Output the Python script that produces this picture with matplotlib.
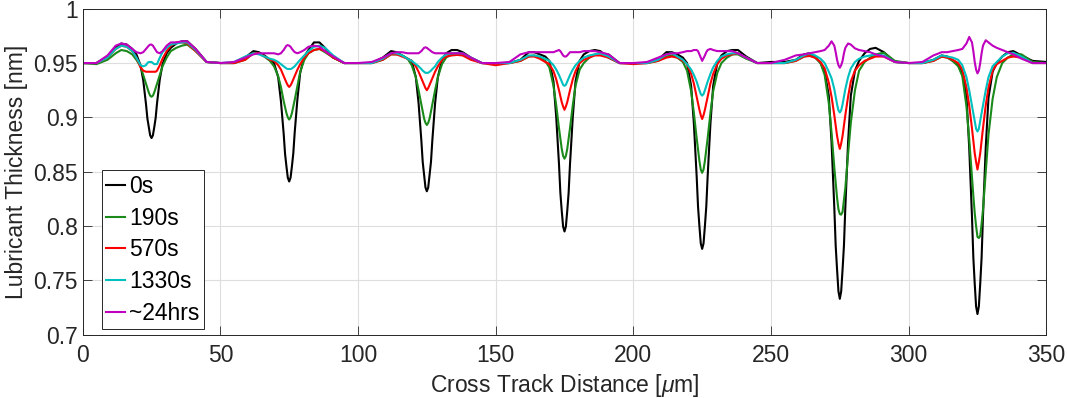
import numpy as np
import matplotlib
matplotlib.use("Agg")
import matplotlib.pyplot as plt
from matplotlib.ticker import FormatStrFormatter

plt.rcParams['font.family'] = ['Liberation Sans', 'DejaVu Sans']
plt.rcParams['mathtext.fontset'] = 'custom'
plt.rcParams['mathtext.it'] = 'Liberation Sans:italic'
plt.rcParams['mathtext.rm'] = 'Liberation Sans'

# dip centres and sample offsets (um) around each dip
centers = [25, 75, 125, 175, 225, 275, 325]
offsets = [-25, -20, -16, -13, -11, -9, -7, -5.5, -4, -3, -2, -1.5, -1, -0.5, 0,
           0.5, 1, 1.5, 2, 3, 4, 5.5, 7, 9, 11, 13, 16, 20]
x_end = 350

labels = ['0s', '190s', '570s', '1330s', '~24hrs']
colors = ['#000000', '#1a8a1a', '#ff0000', '#00bfbf', '#bf00bf']

# lubricant thickness [nm], one row per dip
thick_0s = [
    [0.950, 0.950, 0.956, 0.964, 0.968, 0.967, 0.963, 0.958, 0.948, 0.934, 0.912, 0.899, 0.891, 0.8835, 0.881, 0.8835, 0.891, 0.8995, 0.913, 0.935, 0.949, 0.959, 0.964, 0.968, 0.970, 0.970, 0.963, 0.951],
    [0.950, 0.950, 0.955, 0.961, 0.960, 0.957, 0.953, 0.950, 0.937, 0.915, 0.885, 0.8665, 0.855, 0.8445, 0.841, 0.8445, 0.855, 0.867, 0.886, 0.917, 0.941, 0.956, 0.962, 0.969, 0.969, 0.964, 0.955, 0.950],
    [0.950, 0.950, 0.955, 0.961, 0.960, 0.957, 0.954, 0.952, 0.937, 0.913, 0.879, 0.859, 0.847, 0.8355, 0.832, 0.8355, 0.847, 0.859, 0.879, 0.913, 0.937, 0.953, 0.959, 0.962, 0.962, 0.960, 0.955, 0.950],
    [0.950, 0.950, 0.953, 0.960, 0.960, 0.958, 0.956, 0.952, 0.933, 0.900, 0.857, 0.8305, 0.814, 0.7995, 0.795, 0.7995, 0.814, 0.8305, 0.857, 0.900, 0.933, 0.952, 0.958, 0.961, 0.962, 0.961, 0.955, 0.950],
    [0.950, 0.950, 0.953, 0.960, 0.960, 0.958, 0.955, 0.950, 0.929, 0.894, 0.846, 0.818, 0.800, 0.784, 0.779, 0.784, 0.800, 0.818, 0.846, 0.894, 0.929, 0.950, 0.957, 0.961, 0.962, 0.962, 0.956, 0.950],
    [0.951, 0.951, 0.953, 0.958, 0.959, 0.956, 0.950, 0.942, 0.920, 0.877, 0.817, 0.782, 0.760, 0.740, 0.733, 0.740, 0.760, 0.782, 0.817, 0.877, 0.920, 0.943, 0.952, 0.959, 0.963, 0.964, 0.960, 0.951],
    [0.950, 0.950, 0.953, 0.957, 0.956, 0.952, 0.948, 0.940, 0.920, 0.872, 0.809, 0.771, 0.747, 0.726, 0.719, 0.726, 0.747, 0.771, 0.809, 0.872, 0.918, 0.942, 0.950, 0.956, 0.960, 0.961, 0.957, 0.952],
]
thick_190s = [
    [0.950, 0.949, 0.953, 0.959, 0.962, 0.961, 0.958, 0.953, 0.947, 0.939, 0.931, 0.927, 0.923, 0.920, 0.919, 0.920, 0.923, 0.927, 0.931, 0.939, 0.947, 0.955, 0.961, 0.964, 0.966, 0.967, 0.961, 0.951],
    [0.950, 0.950, 0.953, 0.959, 0.959, 0.956, 0.952, 0.947, 0.938, 0.928, 0.915, 0.9095, 0.904, 0.900, 0.898, 0.900, 0.904, 0.910, 0.916, 0.929, 0.942, 0.953, 0.959, 0.962, 0.963, 0.960, 0.955, 0.950],
    [0.950, 0.950, 0.953, 0.958, 0.958, 0.957, 0.954, 0.948, 0.937, 0.925, 0.912, 0.9055, 0.899, 0.895, 0.893, 0.895, 0.899, 0.9055, 0.912, 0.925, 0.937, 0.949, 0.955, 0.958, 0.959, 0.958, 0.954, 0.950],
    [0.950, 0.950, 0.952, 0.956, 0.957, 0.955, 0.952, 0.946, 0.929, 0.911, 0.890, 0.8805, 0.871, 0.8645, 0.862, 0.8645, 0.871, 0.8805, 0.890, 0.911, 0.929, 0.944, 0.950, 0.955, 0.958, 0.959, 0.958, 0.950],
    [0.950, 0.950, 0.952, 0.956, 0.957, 0.955, 0.951, 0.943, 0.924, 0.904, 0.881, 0.8705, 0.860, 0.852, 0.849, 0.852, 0.860, 0.8705, 0.881, 0.904, 0.924, 0.941, 0.950, 0.955, 0.958, 0.958, 0.954, 0.950],
    [0.950, 0.950, 0.952, 0.956, 0.957, 0.955, 0.950, 0.939, 0.913, 0.886, 0.854, 0.840, 0.826, 0.8155, 0.811, 0.8105, 0.813, 0.824, 0.835, 0.866, 0.895, 0.925, 0.943, 0.951, 0.955, 0.958, 0.9595, 0.952],
    [0.950, 0.950, 0.952, 0.956, 0.955, 0.952, 0.947, 0.938, 0.910, 0.880, 0.845, 0.828, 0.812, 0.800, 0.790, 0.789, 0.791, 0.802, 0.815, 0.850, 0.884, 0.917, 0.937, 0.950, 0.955, 0.958, 0.958, 0.951],
]
thick_570s = [
    [0.950, 0.950, 0.955, 0.963, 0.966, 0.965, 0.961, 0.955, 0.946, 0.943, 0.942, 0.942, 0.942, 0.942, 0.942, 0.942, 0.942, 0.942, 0.943, 0.948, 0.954, 0.961, 0.966, 0.969, 0.969, 0.968, 0.961, 0.951],
    [0.950, 0.950, 0.953, 0.959, 0.959, 0.956, 0.953, 0.952, 0.948, 0.944, 0.938, 0.935, 0.932, 0.9295, 0.928, 0.9295, 0.932, 0.935, 0.938, 0.944, 0.949, 0.955, 0.959, 0.962, 0.963, 0.961, 0.955, 0.950],
    [0.950, 0.950, 0.953, 0.958, 0.958, 0.956, 0.954, 0.952, 0.947, 0.942, 0.936, 0.933, 0.930, 0.927, 0.925, 0.927, 0.930, 0.933, 0.936, 0.942, 0.947, 0.953, 0.956, 0.957, 0.9575, 0.957, 0.953, 0.950],
    [0.948, 0.950, 0.952, 0.956, 0.956, 0.954, 0.951, 0.949, 0.9425, 0.935, 0.925, 0.9195, 0.914, 0.910, 0.907, 0.910, 0.914, 0.9195, 0.925, 0.935, 0.9425, 0.950, 0.953, 0.955, 0.957, 0.957, 0.955, 0.950],
    [0.949, 0.950, 0.952, 0.955, 0.956, 0.955, 0.952, 0.949, 0.940, 0.931, 0.919, 0.913, 0.907, 0.902, 0.8985, 0.902, 0.907, 0.913, 0.919, 0.931, 0.940, 0.949, 0.954, 0.957, 0.958, 0.959, 0.955, 0.950],
    [0.950, 0.950, 0.952, 0.956, 0.9565, 0.955, 0.951, 0.945, 0.932, 0.919, 0.902, 0.8925, 0.883, 0.876, 0.871, 0.876, 0.883, 0.8925, 0.902, 0.919, 0.933, 0.943, 0.948, 0.952, 0.954, 0.956, 0.956, 0.951],
    [0.950, 0.950, 0.952, 0.956, 0.955, 0.953, 0.950, 0.944, 0.9275, 0.911, 0.890, 0.8785, 0.867, 0.859, 0.852, 0.859, 0.867, 0.8785, 0.890, 0.911, 0.9275, 0.943, 0.949, 0.952, 0.955, 0.956, 0.955, 0.950],
]
thick_1330s = [
    [0.950, 0.950, 0.955, 0.963, 0.966, 0.965, 0.961, 0.955, 0.948, 0.947, 0.948, 0.950, 0.951, 0.951, 0.951, 0.950, 0.949, 0.949, 0.949, 0.955, 0.960, 0.964, 0.967, 0.968, 0.969, 0.969, 0.962, 0.951],
    [0.950, 0.951, 0.956, 0.959, 0.958, 0.956, 0.954, 0.953, 0.951, 0.949, 0.947, 0.946, 0.945, 0.9445, 0.9445, 0.9445, 0.945, 0.946, 0.947, 0.950, 0.953, 0.957, 0.961, 0.965, 0.966, 0.964, 0.957, 0.950],
    [0.950, 0.950, 0.954, 0.959, 0.959, 0.957, 0.954, 0.952, 0.949, 0.947, 0.9445, 0.943, 0.942, 0.941, 0.941, 0.941, 0.942, 0.943, 0.9445, 0.947, 0.951, 0.955, 0.958, 0.959, 0.959, 0.959, 0.955, 0.950],
    [0.950, 0.950, 0.953, 0.957, 0.957, 0.956, 0.954, 0.952, 0.948, 0.944, 0.939, 0.936, 0.933, 0.930, 0.929, 0.930, 0.933, 0.936, 0.939, 0.944, 0.948, 0.952, 0.955, 0.957, 0.958, 0.959, 0.956, 0.950],
    [0.950, 0.950, 0.953, 0.958, 0.959, 0.956, 0.953, 0.949, 0.944, 0.939, 0.933, 0.929, 0.925, 0.9215, 0.920, 0.9215, 0.925, 0.929, 0.933, 0.940, 0.946, 0.952, 0.956, 0.958, 0.959, 0.959, 0.955, 0.950],
    [0.950, 0.950, 0.953, 0.957, 0.959, 0.957, 0.954, 0.950, 0.942, 0.936, 0.926, 0.919, 0.912, 0.9065, 0.9045, 0.9065, 0.912, 0.919, 0.926, 0.937, 0.945, 0.951, 0.954, 0.956, 0.957, 0.958, 0.957, 0.951],
    [0.950, 0.950, 0.953, 0.957, 0.956, 0.955, 0.953, 0.948, 0.937, 0.925, 0.911, 0.904, 0.897, 0.8895, 0.887, 0.8895, 0.897, 0.904, 0.911, 0.925, 0.937, 0.947, 0.951, 0.956, 0.959, 0.9595, 0.956, 0.950],
]
thick_24hrs = [
    [0.950, 0.950, 0.957, 0.966, 0.968, 0.967, 0.963, 0.960, 0.959, 0.960, 0.963, 0.9645, 0.966, 0.967, 0.967, 0.966, 0.964, 0.962, 0.960, 0.959, 0.961, 0.966, 0.969, 0.969, 0.970, 0.970, 0.963, 0.951],
    [0.950, 0.951, 0.955, 0.958, 0.959, 0.959, 0.959, 0.959, 0.958, 0.959, 0.962, 0.964, 0.966, 0.9665, 0.966, 0.965, 0.963, 0.9615, 0.960, 0.959, 0.960, 0.962, 0.965, 0.966, 0.965, 0.961, 0.956, 0.950],
    [0.950, 0.951, 0.955, 0.959, 0.960, 0.960, 0.959, 0.959, 0.959, 0.959, 0.961, 0.9625, 0.964, 0.9645, 0.964, 0.963, 0.962, 0.961, 0.960, 0.959, 0.959, 0.959, 0.959, 0.959, 0.959, 0.959, 0.955, 0.950],
    [0.950, 0.951, 0.958, 0.960, 0.960, 0.960, 0.960, 0.960, 0.960, 0.961, 0.962, 0.961, 0.959, 0.957, 0.956, 0.956, 0.957, 0.9585, 0.960, 0.960, 0.960, 0.960, 0.961, 0.961, 0.961, 0.960, 0.958, 0.950],
    [0.950, 0.951, 0.955, 0.958, 0.959, 0.959, 0.960, 0.961, 0.961, 0.962, 0.962, 0.961, 0.958, 0.955, 0.952, 0.9545, 0.957, 0.960, 0.962, 0.963, 0.962, 0.961, 0.961, 0.961, 0.961, 0.959, 0.955, 0.950],
    [0.950, 0.953, 0.957, 0.958, 0.959, 0.960, 0.961, 0.962, 0.966, 0.970, 0.966, 0.960, 0.953, 0.948, 0.9457, 0.948, 0.952, 0.959, 0.964, 0.968, 0.967, 0.9635, 0.962, 0.961, 0.960, 0.958, 0.956, 0.951],
    [0.950, 0.951, 0.957, 0.960, 0.960, 0.961, 0.962, 0.963, 0.968, 0.974, 0.969, 0.961, 0.951, 0.944, 0.9405, 0.943, 0.950, 0.959, 0.966, 0.971, 0.969, 0.966, 0.964, 0.962, 0.960, 0.958, 0.954, 0.950],
]
end_values = [0.951, 0.950, 0.950, 0.950, 0.950]

x = np.concatenate([c + np.array(offsets) for c in centers] + [[x_end]])
series = [thick_0s, thick_190s, thick_570s, thick_1330s, thick_24hrs]

fig = plt.figure(figsize=(10.67, 3.98), dpi=100)
ax = fig.add_axes([0.0775, 0.159, 0.9031, 0.8191])

for data, last, col, lab in zip(series, end_values, colors, labels):
    y = np.concatenate([np.ravel(data), [last]])
    ax.plot(x, y, color=col, lw=1.5, label=lab, solid_joinstyle='round')

ax.set_xlim(0, 350)
ax.set_ylim(0.7, 1.0)
ax.set_xticks(np.arange(0, 351, 50))
ax.set_yticks(np.arange(0.7, 1.001, 0.05))
ax.yaxis.set_major_formatter(FormatStrFormatter('%g'))

ax.grid(True, color='#dedede', linewidth=0.8)
ax.set_axisbelow(True)
for sp in ax.spines.values():
    sp.set_color('#262626')
    sp.set_linewidth(0.7)
ax.tick_params(direction='in', top=True, right=True, length=6.5, width=0.6,
               colors='#262626', labelsize=16.5)
ax.tick_params(axis='x', pad=7)

ax.set_xlabel('Cross Track Distance [$\\mu$m]', fontsize=16.5, color='#262626', labelpad=3)
ax.set_ylabel('Lubricant Thickness [nm]', fontsize=16.5, color='#262626', labelpad=4)

leg = ax.legend(loc='lower left', bbox_to_anchor=(0.0197, 0.0166), borderaxespad=0,
                fontsize=16.5, handlelength=0.8, handletextpad=0.2, borderpad=0.2,
                labelspacing=0.38, fancybox=False, framealpha=1, edgecolor='#262626')
leg.get_frame().set_linewidth(0.7)

fig.savefig('out.png', dpi=100)
